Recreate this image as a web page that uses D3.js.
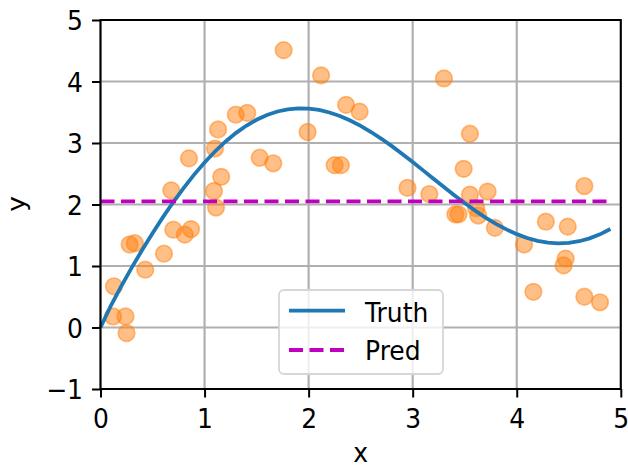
<!DOCTYPE html>
<html><head><meta charset="utf-8">
<script src="https://cdn.jsdelivr.net/npm/d3@7"></script>
<style>body{margin:0;background:#fff}svg{display:block}text{font-family:"DejaVu Sans",sans-serif}</style>
</head><body>
<svg id="c" width="628" height="469"></svg>
<script>
// Training samples
const trainX = [0.12,0.24,0.25,0.13,0.28,0.33,0.43,0.61,0.70,0.81,0.87,0.68,0.85,1.09,1.11,1.16,1.10,1.13,1.30,1.41,1.53,1.66,1.76,1.99,2.12,2.25,2.31,2.36,2.49,2.95,3.16,3.30,3.41,3.44,3.49,3.55,3.55,3.61,3.63,3.72,3.79,4.07,4.16,4.28,4.47,4.45,4.49,4.65,4.65,4.80];
const trainY = [0.18,0.18,-0.09,0.67,1.35,1.37,0.94,1.20,1.59,1.51,1.60,2.23,2.75,2.22,1.95,2.45,2.91,3.22,3.46,3.49,2.76,2.67,4.51,3.18,4.10,2.64,2.64,3.62,3.51,2.27,2.17,4.05,1.84,1.84,2.58,3.15,2.16,1.94,1.82,2.21,1.62,1.35,0.58,1.72,1.12,1.01,1.64,2.30,0.50,0.41];
// Test grid and truth curve values
const testX = [0,0.1,0.2,0.3,0.4,0.5,0.6,0.7,0.8,0.9,1.0,1.1,1.2,1.3,1.4,1.5,1.6,1.7,1.8,1.9,2.0,2.1,2.2,2.3,2.4,2.5,2.6,2.7,2.8,2.9,3.0,3.1,3.2,3.3,3.4,3.5,3.6,3.7,3.8,3.9,4.0,4.1,4.2,4.3,4.4,4.5,4.6,4.7,4.8,4.9];
const truthY = [0,0.358,0.673,0.973,1.259,1.533,1.794,2.040,2.271,2.486,2.683,2.862,3.021,3.161,3.280,3.378,3.456,3.512,3.548,3.564,3.560,3.537,3.496,3.439,3.366,3.278,3.179,3.068,2.949,2.822,2.690,2.555,2.419,2.283,2.151,2.023,1.901,1.788,1.686,1.595,1.518,1.455,1.409,1.380,1.368,1.376,1.403,1.449,1.515,1.601];
const predY = testX.map(() => 2.05);
const xTicks = [0,1,2,3,4,5];
const yTicks = [-1,0,1,2,3,4,5];

const FS = 25, SY = 1.06;
const DASH = "14,6.5";
const svg = d3.select("#c");
const L = 100.5, R = 620.8, T = 20, B = 389;
const x = d3.scaleLinear().domain([0,5]).range([L,R]);
const y = d3.scaleLinear().domain([-1,5]).range([B,T]);

// grid
const g = svg.append("g");
g.selectAll(".gx").data(xTicks).join("line")
  .attr("x1",d=>x(d)).attr("x2",d=>x(d)).attr("y1",T).attr("y2",B)
  .attr("stroke","#b0b0b0").attr("stroke-width",2.2);
g.selectAll(".gy").data(yTicks).join("line")
  .attr("y1",d=>y(d)).attr("y2",d=>y(d)).attr("x1",L).attr("x2",R)
  .attr("stroke","#b0b0b0").attr("stroke-width",2.2);

// scatter
svg.append("g").selectAll("circle").data(trainX).join("circle")
  .attr("cx",(d)=>x(d)).attr("cy",(d,i)=>y(trainY[i])).attr("r",8.3)
  .attr("fill","#ff7f0e").attr("fill-opacity",0.5)
  .attr("stroke","#ff7f0e").attr("stroke-opacity",0.5).attr("stroke-width",1.7);

// lines
const line = d3.line().x(d=>x(d[0])).y(d=>y(d[1]));
svg.append("path").datum(testX.map((d,i)=>[d,truthY[i]])).attr("d",line)
  .attr("fill","none").attr("stroke","#1f77b4").attr("stroke-width",3.8);
svg.append("path").datum(testX.map((d,i)=>[d,predY[i]])).attr("d",line)
  .attr("fill","none").attr("stroke","#bf00bf").attr("stroke-width",3.8)
  .attr("stroke-dasharray",DASH);

// axes
const xAxis = svg.append("g").attr("transform",`translate(0,${B})`)
  .call(d3.axisBottom(x).tickValues(xTicks).tickSize(8.5).tickFormat(d3.format("d")));
const yAxis = svg.append("g").attr("transform",`translate(${L},0)`)
  .call(d3.axisLeft(y).tickValues(yTicks).tickSize(8.5).tickFormat(d=>d<0?"\u2212"+Math.abs(d):d));
[xAxis,yAxis].forEach(a=>{
  a.select(".domain").remove();
  a.attr("font-size",null).attr("font-family",null);
  a.selectAll(".tick line").attr("stroke","#000").attr("stroke-width",2);
  a.selectAll("text").style("font-size",FS+"px").attr("fill","#000")
    .style("font-family","DejaVu Sans").attr("dy",0);
});
xAxis.selectAll("text").attr("y",0).attr("x",0).attr("transform",`translate(0,39) scale(1,${SY})`);
yAxis.selectAll("text").attr("y",0).attr("x",0).attr("transform",`translate(-17.5,9.6) scale(1,${SY})`);

// spines
svg.append("rect").attr("x",L).attr("y",T).attr("width",R-L).attr("height",B-T)
  .attr("fill","none").attr("stroke","#000").attr("stroke-width",2);

svg.append("text").attr("transform",`translate(${(L+R)/2},462) scale(1,${SY})`).attr("text-anchor","middle")
  .style("font-size",FS+"px").text("x");
svg.append("text").attr("transform",`translate(25,204) rotate(-90) scale(${SY},1)`).attr("text-anchor","middle")
  .style("font-size",FS+"px").text("y");

// legend
const lg = svg.append("g");
lg.append("rect").attr("x",279).attr("y",290).attr("width",164).attr("height",84).attr("rx",5)
  .attr("fill","#fff").attr("fill-opacity",0.8).attr("stroke","#d6d6d6").attr("stroke-width",1.8);
const items = [{name:"Truth",color:"#1f77b4",dash:null,ly:310.7,ty:321.7},{name:"Pred",color:"#bf00bf",dash:DASH,ly:350,ty:359.5}];
items.forEach((it)=>{
  lg.append("line").attr("x1",289).attr("x2",345).attr("y1",it.ly).attr("y2",it.ly)
    .attr("stroke",it.color).attr("stroke-width",3.8).attr("stroke-dasharray",it.dash);
  lg.append("text").attr("transform",`translate(365,${it.ty}) scale(1,${SY})`)
    .style("font-size",FS+"px").text(it.name);
});
</script>
</body></html>
